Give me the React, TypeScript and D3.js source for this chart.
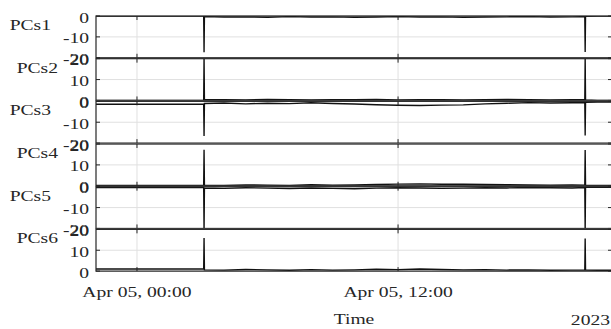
import * as d3 from 'd3';
import React from 'react';

// sample times (Apr 04 22:07 -> Apr 05 21:50, 2023)
const sampleTimes = [
  '2023-04-04T22:07', '2023-04-04T23:30', '2023-04-05T01:00', '2023-04-05T02:30',
  '2023-04-05T03:04', '2023-04-05T03:05', '2023-04-05T03:06',
  '2023-04-05T04:00', '2023-04-05T05:00', '2023-04-05T06:00', '2023-04-05T07:00',
  '2023-04-05T08:00', '2023-04-05T09:00', '2023-04-05T10:00', '2023-04-05T11:00',
  '2023-04-05T12:00', '2023-04-05T13:00', '2023-04-05T14:00', '2023-04-05T15:00',
  '2023-04-05T16:00', '2023-04-05T17:00', '2023-04-05T18:00', '2023-04-05T19:00',
  '2023-04-05T20:00', '2023-04-05T20:35', '2023-04-05T20:36', '2023-04-05T20:37',
  '2023-04-05T21:10', '2023-04-05T21:50',
];

const pcs1 = [0, 0, 0, 0, 0, -17.4, -0.3, -0.5, -0.4, -0.6, -0.3, -0.5, -0.4, -0.6, -0.5, -0.3, -0.5, -0.4, -0.6, -0.5, -0.4, -0.3, -0.5, -0.4, -0.3, -17.2, -0.2, 0, 0];
const pcs2 = [0, 0, 0, 0, 0, 21, 0.3, 0.4, 0.2, 0.5, 0.3, 0.2, 0.4, 0.3, 0.5, 0.2, 0.3, 0.4, 0.2, 0.3, 0.5, 0.3, 0.2, 0.4, 0.3, 20.5, 0.2, 0, 0];
const pcs3 = [-1.4, -1.4, -1.4, -1.4, -1.4, -16.6, -1.0, -0.8, -1.2, -0.9, -1.1, -0.7, -1.0, -1.3, -1.6, -1.9, -2.0, -1.8, -1.7, -1.2, -0.9, -0.6, -0.8, -0.7, -0.6, -16.4, -0.5, -0.4, -0.4];
const pcs4 = [0.2, 0.2, 0.2, 0.2, 0.2, 17.2, 0.3, 0.2, 0.4, 0.3, 0.2, 0.5, 0.3, 0.4, 0.6, 0.8, 0.9, 0.7, 0.8, 0.6, 0.5, 0.4, 0.3, 0.4, 0.3, 17.1, 0.2, 0.2, 0.2];
const pcs5 = [-0.4, -0.4, -0.4, -0.4, -0.4, -21, -0.6, -0.8, -0.5, -0.7, -0.9, -0.6, -0.8, -1.0, -0.7, -0.5, -0.6, -0.8, -0.7, -0.5, -0.6, -0.4, -0.5, -0.6, -0.4, -21, -0.3, -0.3, -0.3];
const pcs6 = [1.0, 1.0, 1.0, 1.0, 1.0, 15.8, 0.6, 0.5, 0.8, 0.6, 0.4, 0.7, 0.5, 0.6, 0.9, 0.7, 1.0, 0.8, 0.6, 0.7, 0.5, 0.6, 0.4, 0.5, 0.6, 15.6, 0.5, 0.4, 0.4];

const seriesNames = ['PCs1', 'PCs2', 'PCs3', 'PCs4', 'PCs5', 'PCs6'];
const seriesValues = [pcs1, pcs2, pcs3, pcs4, pcs5, pcs6];
const negTicks = [0, -10, -20];
const posTicks = [0, 10, 20];
const timeStart = '2023-04-04T22:07';
const timeEnd = '2023-04-05T21:50';

const W = 611, H = 329;
const left = 96, right = 612;
const top0 = 16, pitch = 42.67, gap = 0.9;
const ink = '#262626';
const font = '"Liberation Serif", "Times New Roman", serif';
const sx = 1.4; // glyphs in the picture are stretched sideways

const parse = d3.timeParse('%Y-%m-%dT%H:%M');
const times = sampleTimes.map((s) => parse(s) as Date);

function Txt(props: { x: number; y: number; anchor?: string; children: React.ReactNode }) {
  return (
    <text
      transform={`translate(${props.x},${props.y}) scale(${sx},1)`}
      textAnchor={props.anchor || 'middle'}
      fontFamily={font}
      fontSize={14}
      fill={ink}
    >
      {props.children}
    </text>
  );
}

export default function App() {
  const x = d3.scaleTime().domain([parse(timeStart) as Date, parse(timeEnd) as Date]).range([left, right]);
  const xTicks = x.ticks(d3.timeHour.every(12) as d3.TimeInterval);
  const fmtTime = d3.timeFormat('%b %d, %H:%M');

  const panels = seriesNames.map((name, i) => {
    const t = top0 + i * pitch;
    const b = t + pitch - gap;
    const neg = i % 2 === 0;
    const y = d3.scaleLinear().domain(neg ? [-20, 0] : [0, 20]).range([b, t]);
    const ticks = neg ? negTicks : posTicks;
    const line = d3
      .line<number>()
      .x((_, k) => x(times[k]))
      .y((v) => y(v));
    const clipId = `clip${i}`;
    return (
      <g key={name}>
        <clipPath id={clipId}>
          <rect x={left} y={t} width={right - left} height={b - t} />
        </clipPath>
        {/* grid */}
        {ticks.map((v) => (
          <line key={'gy' + v} x1={left} x2={right} y1={y(v)} y2={y(v)} stroke="#e0e0e0" strokeWidth={1} />
        ))}
        {xTicks.map((d) => (
          <line key={'gx' + +d} x1={x(d)} x2={x(d)} y1={t} y2={b} stroke="#e0e0e0" strokeWidth={1} />
        ))}
        {/* data */}
        <path d={line(seriesValues[i]) || ''} fill="none" stroke="#111" strokeWidth={1.4} clipPath={`url(#${clipId})`} />
        {/* box */}
        <rect x={left} y={t} width={right - left} height={b - t} fill="none" stroke={ink} strokeWidth={1.2} />
        {/* ticks */}
        {ticks.map((v) => (
          <g key={'ty' + v}>
            <line x1={left} x2={left + 4} y1={y(v)} y2={y(v)} stroke={ink} />
            <line x1={right - 4} x2={right} y1={y(v)} y2={y(v)} stroke={ink} />
          </g>
        ))}
        {xTicks.map((d) => (
          <g key={'tx' + +d}>
            <line x1={x(d)} x2={x(d)} y1={t} y2={t + 4} stroke={ink} />
            <line x1={x(d)} x2={x(d)} y1={b - 4} y2={b} stroke={ink} />
          </g>
        ))}
        {ticks.map((v) => (
          <Txt key={'l' + v} x={left - 7} y={y(v) + 6.5} anchor="end">
            {String(v)}
          </Txt>
        ))}
        <Txt x={neg ? 51 : 58} y={t + 14} anchor="end">
          {name}
        </Txt>
      </g>
    );
  });

  return (
    <svg width={W} height={H} style={{ position: 'absolute', left: 0, top: 0, background: '#fff' }}>
      <rect width={W} height={H} fill="#fff" />
      {panels}
      {xTicks.map((d) => (
        <Txt key={'xl' + +d} x={x(d)} y={297}>
          {fmtTime(d)}
        </Txt>
      ))}
      <Txt x={(left + right) / 2} y={324}>
        Time
      </Txt>
      <Txt x={610} y={325} anchor="end">
        2023
      </Txt>
    </svg>
  );
}
